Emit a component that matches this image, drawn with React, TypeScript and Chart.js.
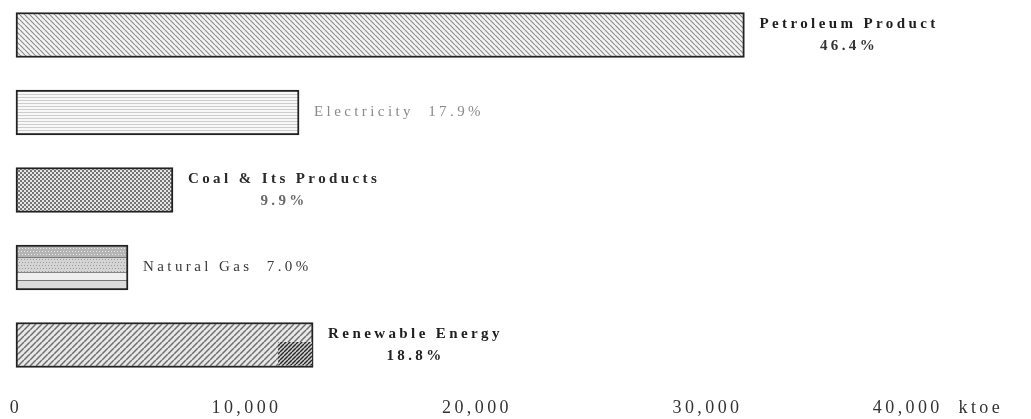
import { useEffect, useRef } from 'react';
import { Chart, registerables } from 'chart.js';

Chart.register(...registerables);

// ---- data ----
const categories = ['Petroleum Product', 'Electricity', 'Coal & Its Products', 'Natural Gas', 'Renewable Energy'];
const consumption = [31600, 12280, 6810, 4860, 12890]; // ktoe
const shares = ['46.4%', '17.9%', '9.9%', '7.0%', '18.8%'];
const tickValues = [0, 10000, 20000, 30000, 40000];
const tickLabels = ['0', '10,000', '20,000', '30,000', '40,000  ktoe'];

// ---- styles ----
const SERIF = "'Liberation Serif', 'DejaVu Serif', serif";
const labelStyles = [
  { twoLine: true, font: `bold 15px ${SERIF}`, color: '#1e1e1e', color2: '#333333', spacing: '3.4px' },
  { twoLine: false, font: `15px ${SERIF}`, color: '#8a8a8a', color2: '#8a8a8a', spacing: '3.4px' },
  { twoLine: true, font: `bold 15px ${SERIF}`, color: '#2a2a2a', color2: '#6a6a6a', spacing: '3.4px' },
  { twoLine: false, font: `15px ${SERIF}`, color: '#3a3a3a', color2: '#3a3a3a', spacing: '3.4px' },
  { twoLine: true, font: `bold 15px ${SERIF}`, color: '#1e1e1e', color2: '#222222', spacing: '3.4px' },
];

function tile(w: number, h: number, draw: (g: CanvasRenderingContext2D, w: number, h: number) => void) {
  const c = document.createElement('canvas');
  c.width = w;
  c.height = h;
  const g = c.getContext('2d')!;
  draw(g, w, h);
  return c;
}

function hatch(size: number, bg: string, fg: string, lw: number, dir: 'back' | 'fwd') {
  return tile(size, size, (g, w, h) => {
    g.fillStyle = bg;
    g.fillRect(0, 0, w, h);
    g.strokeStyle = fg;
    g.lineWidth = lw;
    g.beginPath();
    for (let k = -1; k <= 1; k++) {
      if (dir === 'back') {
        g.moveTo(k * w, 0);
        g.lineTo(k * w + w, h);
      } else {
        g.moveTo(k * w, h);
        g.lineTo(k * w + w, 0);
      }
    }
    g.stroke();
  });
}

function makePatterns(ctx: CanvasRenderingContext2D) {
  const petro = ctx.createPattern(hatch(5, '#f4f4f4', '#8e8e8e', 1.2, 'back'), 'repeat')!;
  const elec = ctx.createPattern(
    tile(4, 3, (g, w) => {
      g.fillStyle = '#f8f8f8';
      g.fillRect(0, 0, w, 3);
      g.fillStyle = '#cdcdcd';
      g.fillRect(0, 1, w, 1);
    }),
    'repeat'
  )!;
  const coal = ctx.createPattern(
    tile(4, 4, (g) => {
      g.fillStyle = '#e6e6e6';
      g.fillRect(0, 0, 4, 4);
      g.fillStyle = '#757575';
      g.fillRect(0, 0, 2, 2);
      g.fillRect(2, 2, 2, 2);
    }),
    'repeat'
  )!;
  const gas = ctx.createPattern(
    tile(6, 45, (g, w) => {
      g.fillStyle = '#e4e4e4';
      g.fillRect(0, 0, w, 45);
      g.fillStyle = '#b4b4b4';
      g.fillRect(0, 2, w, 10);
      g.fillStyle = '#e8e8e8';
      for (let y = 3; y < 12; y += 3) for (let x = y % 2; x < w; x += 3) g.fillRect(x, y, 1, 1);
      g.fillStyle = '#7a7a7a';
      g.fillRect(0, 12, w, 1);
      g.fillStyle = '#d4d4d4';
      g.fillRect(0, 13, w, 14);
      g.fillStyle = '#9c9c9c';
      for (let y = 14; y < 27; y += 3) for (let x = y % 2; x < w; x += 3) g.fillRect(x, y, 1, 1);
      g.fillStyle = '#858585';
      g.fillRect(0, 27, w, 1);
      g.fillStyle = '#efefef';
      g.fillRect(0, 28, w, 7);
      g.fillStyle = '#777777';
      g.fillRect(0, 35, w, 1);
      g.fillStyle = '#dcdcdc';
      g.fillRect(0, 36, w, 7);
    }),
    'repeat'
  )!;
  const renew = ctx.createPattern(hatch(6, '#e8e8e8', '#707070', 1.5, 'fwd'), 'repeat')!;
  const renewDark = ctx.createPattern(hatch(4, '#d0d0d0', '#262626', 1.4, 'fwd'), 'repeat')!;
  return { fills: [petro, elec, coal, gas, renew], gas, renewDark };
}

export default function App() {
  const ref = useRef<HTMLCanvasElement | null>(null);

  useEffect(() => {
    document.body.style.margin = '0';
    const canvas = ref.current!;
    const ctx = canvas.getContext('2d')!;
    const pats = makePatterns(ctx);

    const helperPlugin = {
      id: 'helper',
      beforeLayout(chart: any) {
        chart.ctx.letterSpacing = '3.4px';
      },
      beforeDraw(chart: any) {
        chart.ctx.letterSpacing = '3.4px';
      },
      beforeDatasetsDraw(chart: any) {
        const el: any = chart.getDatasetMeta(0).data[3];
        if (el) {
          const top = el.y - el.height / 2;
          pats.gas.setTransform(new DOMMatrix([1, 0, 0, 1, 0, top]));
        }
      },
      afterDatasetsDraw(chart: any) {
        const c: CanvasRenderingContext2D = chart.ctx;
        const meta = chart.getDatasetMeta(0);
        // darker hatched patch at the end of the renewable bar
        const r: any = meta.data[4];
        if (r) {
          c.save();
          c.fillStyle = pats.renewDark;
          c.fillRect(r.x - 35, r.y - 3, 34, r.height / 2 + 1);
          c.restore();
        }
        meta.data.forEach((el: any, i: number) => {
          const st = labelStyles[i];
          const x0 = el.x + 15;
          c.save();
          (c as any).letterSpacing = st.spacing;
          c.font = st.font;
          c.fillStyle = st.color;
          if (st.twoLine) {
            c.textBaseline = 'alphabetic';
            c.textAlign = 'left';
            const w1 = c.measureText(categories[i]).width;
            c.fillText(categories[i], x0, el.y - 7);
            c.textAlign = 'center';
            c.fillStyle = st.color2;
            c.fillText(shares[i], x0 + w1 / 2, el.y + 15);
          } else {
            c.textBaseline = 'middle';
            c.textAlign = 'left';
            c.fillText(`${categories[i]}  ${shares[i]}`, x0, el.y);
          }
          c.restore();
        });
      },
    };

    const chart = new Chart(canvas, {
      type: 'bar',
      data: {
        labels: categories,
        datasets: [
          {
            data: consumption,
            backgroundColor: pats.fills as any,
            borderColor: '#222222',
            borderWidth: 2,
            borderSkipped: false,
            barThickness: 45,
            clip: false as any,
          },
        ],
      },
      options: {
        indexAxis: 'y',
        animation: false,
        responsive: false,
        maintainAspectRatio: false,
        events: [],
        layout: { padding: { left: 16, right: 93, top: 35, bottom: 0 } },
        plugins: {
          legend: { display: false },
          tooltip: { enabled: false },
        },
        scales: {
          y: {
            type: 'category',
            display: false,
            offset: false,
          },
          x: {
            type: 'linear',
            min: 0,
            max: 40000,
            grid: { display: false, drawTicks: false },
            border: { display: false },
            afterBuildTicks(scale: any) {
              scale.ticks = tickValues.map((v) => ({ value: v }));
            },
            afterFit(scale: any) {
              scale.height = 74;
              scale.paddingLeft = 0;
              scale.paddingRight = 0;
            },
            ticks: {
              autoSkip: false,
              maxRotation: 0,
              padding: 52,
              color: '#333333',
              font: { family: SERIF, size: 18 },
              callback: (v: any) => {
                const i = tickValues.indexOf(Number(v));
                return i >= 0 ? tickLabels[i] : '';
              },
            },
          },
        },
      },
      plugins: [helperPlugin],
    });

    return () => chart.destroy();
  }, []);

  return <canvas ref={ref} width={1031} height={419} style={{ display: 'block', width: 1031, height: 419 }} />;
}
